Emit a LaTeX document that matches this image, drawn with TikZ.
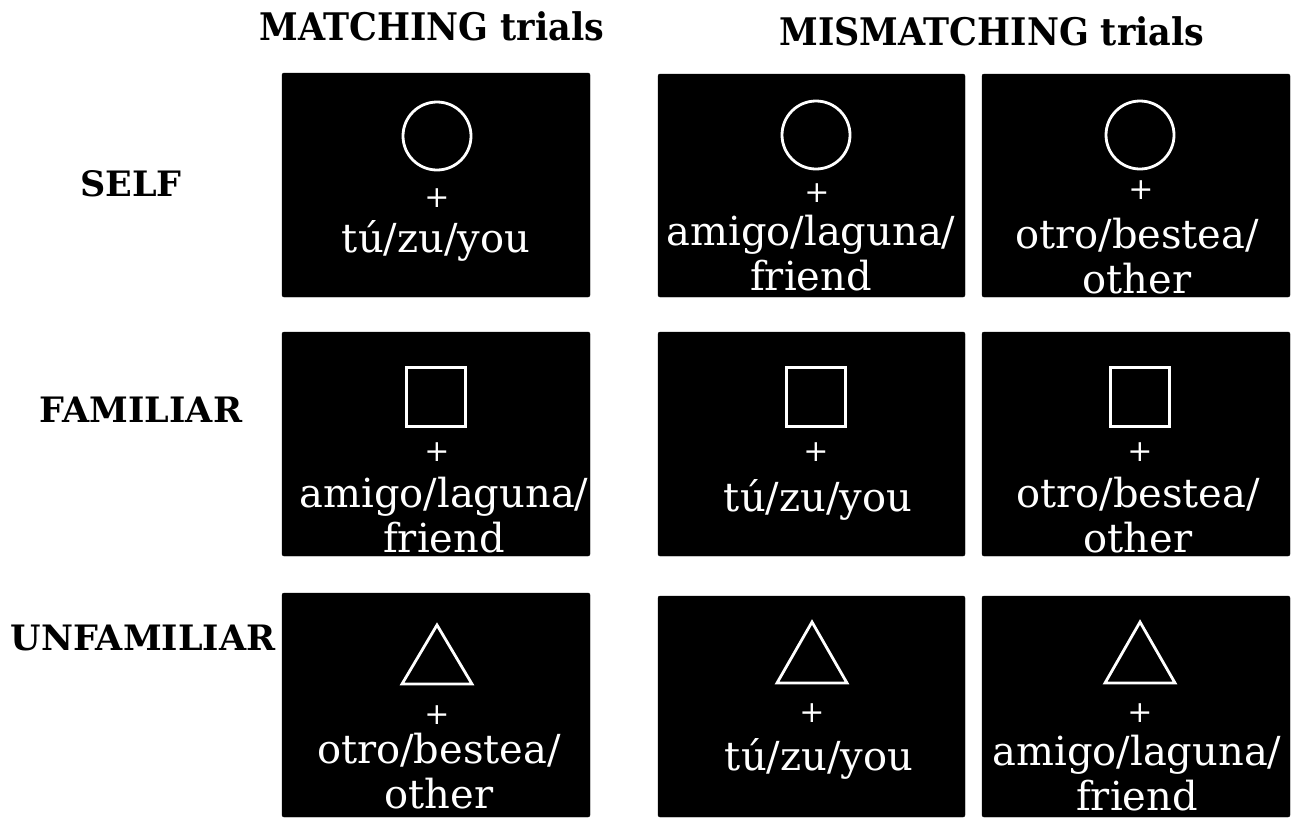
\documentclass[tikz,border=0pt]{standalone}
\usepackage{fontspec}
\usepackage{graphicx}
\setmainfont{DejaVu Serif}
\tikzset{
  trialbox/.style={fill=black, draw=black, rounded corners=2pt, inner sep=0pt},
  shp/.style={draw=white, line width=2.8pt, inner sep=0pt},
  plussign/.style={text=white, inner sep=0pt, font=\fontsize{30}{30}\selectfont},
  word/.style={text=white, inner sep=0pt, anchor=base, font=\fontsize{40}{45}\selectfont},
  rowlabel/.style={inner sep=0pt, anchor=base, font=\bfseries\fontsize{35}{40}\selectfont},
  header/.style={inner sep=0pt, anchor=base, font=\bfseries\fontsize{38}{42}\selectfont}
}
\newcommand{\twolines}[2]{\vtop{\baselineskip=45pt\halign{\hfil##\hfil\cr #1\cr #2\cr}}}
\begin{document}
\begin{tikzpicture}[x=1pt,y=-1pt]
\useasboundingbox (0,0) rectangle (1292,820);
% headers
\node[header] (hmatch) at (432,40) {\scalebox{0.92}[1]{MATCHING trials}};
\node[header] (hmismatch) at (992,45) {\scalebox{0.92}[1]{MISMATCHING trials}};
% row labels
\node[rowlabel] (lself) at (131,196) {SELF};
\node[rowlabel] (lfam) at (141,422) {FAMILIAR};
\node[rowlabel] (lunf) at (143,650) {UNFAMILIAR};
% boxes
\fill[trialbox] (282,73) rectangle (590,297);
\fill[trialbox] (658,74) rectangle (965,297);
\fill[trialbox] (982,74) rectangle (1290,297);
\fill[trialbox] (282,332) rectangle (590,556);
\fill[trialbox] (658,332) rectangle (965,556);
\fill[trialbox] (982,332) rectangle (1290,556);
\fill[trialbox] (282,593) rectangle (590,817);
\fill[trialbox] (658,596) rectangle (965,817);
\fill[trialbox] (982,596) rectangle (1290,817);
% row 1: circles
\node[shp, circle, minimum size=68pt] (c11) at (437,136) {};
\node[shp, circle, minimum size=68pt] (c12) at (816,135) {};
\node[shp, circle, minimum size=68pt] (c13) at (1140,135) {};
\node[plussign] (p11) at (437,198) {+};
\node[plussign] (p12) at (817,193) {+};
\node[plussign] (p13) at (1141,190) {+};
\node[word] (w11) at (436,252) {tú/zu/you};
\node[word] (w12) at (811,245) {\twolines{amigo/laguna/}{friend}};
\node[word] (w13) at (1137,248) {\twolines{otro/bestea/}{other}};
% row 2: squares
\node[shp, rectangle, minimum size=59pt] (s21) at (436,397) {};
\node[shp, rectangle, minimum size=59pt] (s22) at (816,397) {};
\node[shp, rectangle, minimum size=59pt] (s23) at (1140,397) {};
\node[plussign] (p21) at (437,452) {+};
\node[plussign] (p22) at (816,452) {+};
\node[plussign] (p23) at (1140,452) {+};
\node[word] (w21) at (444,507) {\twolines{amigo/laguna/}{friend}};
\node[word] (w22) at (818,511) {tú/zu/you};
\node[word] (w23) at (1138,507) {\twolines{otro/bestea/}{other}};
% row 3: triangles
\draw[shp, line join=miter] (437,625) -- (472,684) -- (402,684) -- cycle;
\draw[shp, line join=miter] (812,622) -- (847,683) -- (777,683) -- cycle;
\draw[shp, line join=miter] (1140,622) -- (1175,683) -- (1105,683) -- cycle;
\node[plussign] (p31) at (437,715) {+};
\node[plussign] (p32) at (812,713) {+};
\node[plussign] (p33) at (1140,713) {+};
\node[word] (w31) at (439,763) {\twolines{otro/bestea/}{other}};
\node[word] (w32) at (819,770) {tú/zu/you};
\node[word] (w33) at (1137,765) {\twolines{amigo/laguna/}{friend}};
\end{tikzpicture}
\end{document}
